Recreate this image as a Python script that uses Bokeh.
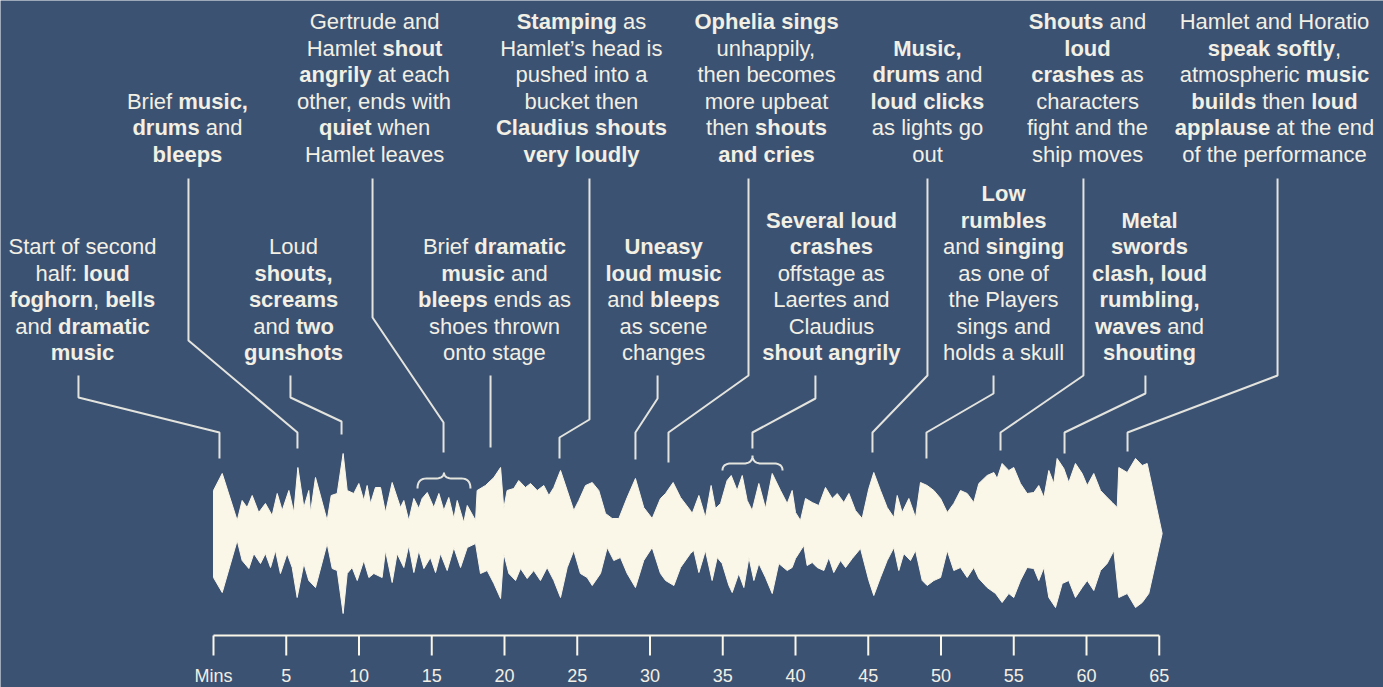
import numpy as np
from bokeh.plotting import figure
from bokeh.models import Range1d, ColumnDataSource
from bokeh.embed import file_html
from bokeh.resources import INLINE
from bokeh.core.properties import value

# ---------------- data ----------------
# loudness envelope above the centre line (minutes, loudness)
top_min = [0.00, 0.60, 1.63, 1.97, 2.31, 2.66, 3.11, 3.57, 4.03, 4.38,
           4.72, 5.18, 5.52, 5.80, 6.21, 6.55, 6.67, 7.01, 7.81, 8.09,
           8.50, 8.91, 9.19, 9.64, 9.99, 10.33, 10.56, 10.79, 11.13, 11.48,
           11.82, 12.28, 12.85, 13.08, 13.42, 13.77, 14.11, 14.34, 14.69, 15.14,
           15.49, 15.83, 16.17, 16.52, 16.75, 17.20, 17.44, 18.01, 18.12, 18.69,
           19.27, 19.73, 19.95, 20.18, 20.64, 20.98, 21.44, 21.79, 22.25, 22.70,
           23.05, 23.39, 23.85, 24.31, 24.76, 25.11, 25.57, 26.03, 26.48, 26.94,
           27.40, 27.86, 28.43, 29.00, 29.57, 30.15, 30.72, 31.07, 31.59, 32.10,
           32.78, 32.90, 33.36, 33.81, 34.20, 34.50, 34.85, 35.30, 35.58, 35.99,
           36.34, 36.68, 37.02, 37.48, 37.94, 38.40, 38.97, 39.43, 39.77, 40.00,
           40.34, 40.69, 41.15, 41.60, 42.06, 42.52, 42.87, 43.32, 43.67, 44.12,
           44.58, 45.04, 45.38, 45.84, 46.30, 46.76, 46.99, 47.33, 47.79, 48.25,
           48.59, 49.05, 49.51, 49.97, 50.43, 50.88, 51.34, 51.80, 52.25, 52.60,
           53.17, 53.63, 53.86, 54.20, 54.66, 55.00, 55.46, 55.92, 56.38, 56.72,
           57.07, 57.41, 57.75, 57.98, 58.44, 58.78, 59.24, 59.70, 60.05, 60.50,
           60.96, 61.42, 61.77, 62.11, 62.22, 62.80, 63.37, 63.83, 64.17, 65.20]
top_amp = [43, 60, 13, 33, 26, 38, 21, 30, 18, 40,
           23, 43, 21, 66, 26, 43, 21, 56, 13, 38,
           40, 80, 43, 40, 50, 33, 48, 30, 46, 46,
           21, 51, 26, 33, 13, 35, 25, 35, 41, 26,
           40, 23, 36, 15, 33, 11, 28, 13, 43, 48,
           56, 66, 25, 43, 45, 53, 46, 50, 43, 48,
           38, 46, 63, 43, 23, 33, 48, 51, 43, 20,
           15, 15, 36, 55, 26, 15, 35, 40, 51, 36,
           23, 20, 38, 16, 48, 25, 30, 53, 58, 43,
           58, 33, 23, 50, 25, 60, 43, 30, 43, 21,
           13, 35, 31, 28, 46, 35, 40, 31, 40, 23,
           15, 45, 61, 43, 26, 16, 38, 21, 35, 16,
           51, 48, 43, 35, 21, 30, 43, 40, 31, 50,
           58, 61, 55, 70, 63, 66, 50, 40, 41, 48,
           36, 63, 50, 75, 65, 51, 70, 60, 48, 60,
           43, 36, 31, 26, 66, 61, 75, 68, 70, 0]
# loudness envelope below the centre line (minutes, loudness)
bot_min = [0.00, 0.60, 1.63, 1.97, 2.43, 2.77, 3.23, 3.57, 3.92, 4.26,
           4.60, 5.06, 5.41, 5.75, 6.21, 6.55, 7.01, 7.81, 8.16, 8.50,
           8.91, 9.19, 9.53, 9.88, 10.33, 10.68, 11.02, 11.59, 11.82, 12.28,
           12.62, 13.08, 13.42, 13.77, 14.11, 14.46, 14.91, 15.26, 15.60, 16.06,
           16.52, 16.98, 17.44, 18.01, 18.35, 18.81, 19.27, 19.73, 19.95, 20.30,
           20.76, 21.10, 21.56, 22.01, 22.47, 22.93, 23.39, 23.85, 24.31, 24.76,
           25.22, 25.68, 26.03, 26.60, 27.06, 27.51, 27.97, 28.43, 29.00, 29.57,
           30.15, 30.72, 31.07, 31.64, 32.10, 32.78, 33.01, 33.36, 33.81, 34.27,
           34.62, 34.96, 35.42, 35.65, 36.10, 36.45, 36.80, 37.14, 37.48, 37.94,
           38.40, 38.85, 39.43, 39.77, 40.00, 40.57, 40.80, 41.15, 41.49, 41.95,
           42.29, 42.63, 43.09, 43.44, 43.90, 44.47, 45.04, 45.38, 45.84, 46.30,
           46.76, 47.10, 47.44, 47.90, 48.25, 48.71, 49.05, 49.51, 49.97, 50.43,
           50.88, 51.34, 51.80, 52.25, 52.60, 53.17, 53.75, 54.20, 54.66, 55.00,
           55.46, 55.92, 56.38, 56.72, 57.07, 57.41, 57.87, 58.33, 58.78, 59.24,
           59.70, 60.05, 60.50, 60.96, 61.42, 61.88, 62.22, 62.80, 63.37, 63.83,
           64.28, 65.20]
bot_amp = [44, 59, 7, 27, 35, 20, 30, 20, 34, 17,
           40, 20, 34, 64, 30, 47, 54, 10, 35, 37,
           80, 40, 34, 47, 27, 44, 40, 44, 17, 49,
           20, 34, 12, 39, 17, 35, 24, 39, 20, 37,
           14, 34, 14, 10, 40, 37, 50, 65, 20, 40,
           47, 35, 45, 37, 47, 34, 47, 64, 34, 17,
           40, 44, 52, 40, 14, 27, 24, 40, 54, 27,
           14, 40, 47, 52, 34, 20, 17, 39, 17, 47,
           24, 30, 52, 59, 40, 54, 24, 47, 30, 44,
           60, 30, 37, 34, 25, 12, 32, 29, 34, 37,
           24, 39, 27, 34, 25, 15, 47, 62, 44, 27,
           14, 37, 20, 27, 17, 47, 52, 47, 44, 17,
           37, 34, 44, 34, 45, 54, 60, 69, 60, 64,
           47, 34, 35, 47, 34, 64, 74, 50, 47, 64,
           54, 47, 57, 37, 30, 17, 64, 60, 74, 69,
           60, 0]

tick_minutes = [0, 5, 10, 15, 20, 25, 30, 35, 40, 45, 50, 55, 60, 65]
tick_labels = ["Mins", "5", "10", "15", "20", "25", "30", "35", "40", "45",
               "50", "55", "60", "65"]

# annotation texts (** marks bold runs)
ann_text = [
    ["Start of second", "half: **loud**", "**foghorn**, **bells**", "and **dramatic**", "**music**"],
    ["Brief **music,**", "**drums** and", "**bleeps**"],
    ["Loud", "**shouts,**", "**screams**", "and **two**", "**gunshots**"],
    ["Gertrude and", "Hamlet **shout**", "**angrily** at each", "other, ends with", "**quiet** when", "Hamlet leaves"],
    ["Brief **dramatic**", "**music** and", "**bleeps** ends as", "shoes thrown", "onto stage"],
    ["**Stamping** as", "Hamlet\u2019s head is", "pushed into a", "bucket then", "**Claudius shouts**", "**very loudly**"],
    ["**Uneasy**", "**loud music**", "and **bleeps**", "as scene", "changes"],
    ["**Ophelia sings**", "unhappily,", "then becomes", "more upbeat", "then **shouts**", "**and cries**"],
    ["**Several loud**", "**crashes**", "offstage as", "Laertes and", "Claudius", "**shout angrily**"],
    ["**Music,**", "**drums** and", "**loud clicks**", "as lights go", "out"],
    ["**Low**", "**rumbles**", "and **singing**", "as one of", "the Players", "sings and", "holds a skull"],
    ["**Shouts** and", "**loud**", "**crashes** as", "characters", "fight and the", "ship moves"],
    ["**Metal**", "**swords**", "**clash, loud**", "**rumbling,**", "**waves** and", "**shouting**"],
    ["Hamlet and Horatio", "**speak softly**,", "atmospheric **music**", "**builds** then **loud**", "**applause** at the end", "of the performance"],
]
# event times (minutes) that each note points at
event_min = [0.41, 5.77, 8.80, 15.81, 19.04, 23.78, 29.00, 31.27, 37.04, 45.29, 49.00, 54.09, 58.49, 62.82]
# bracketed event spans (minutes)
brace_start = [14.02, 34.98]
brace_end = [17.66, 39.11]

# ---------------- layout / style ----------------
BG = "#3c5273"
CREAM = "#fbf7e8"
TEXT_C = "#f2efe4"
LINE_C = "#e4e4de"
FONT = "Liberation Sans"
FSIZE = 22.0
PITCH = 26.5
W, H = 1383, 687
X0, X1 = -14.639, 80.412
Y0, Y1 = -154, 533
PX_PER_MIN = W / (X1 - X0)
AXIS_Y = -102        # level of the time axis line
TICK_LEN = 20
LABEL_Y = -142       # vertical centre of tick labels

ann_x = [-9.00, -1.79, 5.50, 11.07, 19.31, 25.29, 30.93, 38.01, 42.47, 49.07, 54.30, 60.07, 64.33, 72.92]
ann_row = ["b", "t", "b", "t", "b", "t", "b", "t", "b", "t", "b", "t", "b", "t"]
ROW_BASE = {"t": 379.5, "b": 181.0}
lead_x = [-9.28, -1.72, 5.29, 10.93, 19.04, 25.84, 30.52, 36.77, 41.37, 49.07, 53.61, 59.79, 64.05, 73.13]
lead_y = [[158, 136, 101, 75], [355, 193, 101, 85], [158, 136, 112, 99], [355, 216, 111, 81],
          [158, 120, 101, 86], [355, 114, 96, 75], [158, 135, 101, 74], [355, 158, 101, 71],
          [158, 135, 101, 85], [355, 158, 101, 81], [158, 140, 101, 75], [355, 158, 101, 83],
          [158, 140, 101, 80], [355, 158, 101, 82]]
brace_lv = [(45, 55, 61), (63, 70, 78)]

up = "ABCDEFGHIJKLMNOPQRSTUVWXYZ"
lo = "abcdefghijklmnopqrstuvwxyz"
REG = dict(zip(up, [667, 667, 722, 722, 667, 611, 778, 722, 278, 500, 667, 556, 833, 722, 778, 667, 778, 722, 667, 611, 722, 667, 944, 667, 667, 611]))
REG.update(zip(lo, [556, 556, 500, 556, 556, 278, 556, 556, 222, 222, 500, 222, 833, 556, 556, 556, 556, 333, 500, 278, 556, 500, 722, 500, 500, 500]))
REG.update({" ": 278, ",": 278, ".": 278, ":": 278, "\u2019": 222})
BOLD = dict(zip(up, [722, 722, 722, 722, 667, 611, 778, 722, 278, 556, 722, 611, 833, 722, 778, 667, 778, 722, 667, 611, 722, 667, 944, 667, 667, 611]))
BOLD.update(zip(lo, [556, 611, 556, 611, 556, 333, 611, 611, 278, 278, 556, 278, 889, 611, 611, 611, 611, 389, 556, 333, 611, 556, 778, 556, 556, 500]))
BOLD.update({" ": 278, ",": 278, ".": 278, ":": 333, "\u2019": 278})


def tw(s, bold):
    t = BOLD if bold else REG
    return sum(t.get(c, 556) for c in s) * FSIZE / 1000.0


seg = {"n": dict(x=[], y=[], text=[], dx=[]), "b": dict(x=[], y=[], text=[], dx=[])}
for x, row, lines in zip(ann_x, ann_row, ann_text):
    n = len(lines)
    for i, line in enumerate(lines):
        y = ROW_BASE[row] + (n - 1 - i) * PITCH
        parts = line.split("**")
        runs = [(p, k % 2 == 1) for k, p in enumerate(parts) if p]
        total = sum(tw(p, b) for p, b in runs)
        cur = -total / 2.0
        for p, b in runs:
            lead = len(p) - len(p.lstrip(" "))
            core = p.strip(" ")
            cur_core = cur + tw(p[:lead], b)
            if core:
                d = seg["b" if b else "n"]
                d["x"].append(x)
                d["y"].append(y)
                d["text"].append(core)
                d["dx"].append(cur_core)
            cur += tw(p, b)

p = figure(width=W, height=H, x_range=Range1d(X0, X1), y_range=Range1d(Y0, Y1),
           output_backend="svg", toolbar_location=None,
           x_axis_location=None, y_axis_location=None,
           min_border=0)
p.background_fill_color = BG
p.border_fill_color = BG
p.outline_line_color = None
p.xgrid.visible = False
p.ygrid.visible = False

# waveform
wx = list(top_min) + list(bot_min[::-1])
wy = list(top_amp) + [-a for a in bot_amp[::-1]]
p.patch(wx, wy, fill_color=CREAM, line_color=CREAM, line_width=1)

# leader lines
xs, ys = [], []
for tx, ex, yl in zip(lead_x, event_min, lead_y):
    xs.append([tx, tx, ex, ex])
    ys.append(list(yl))
p.multi_line(xs, ys, line_color=LINE_C, line_width=2)


# braces
def qb(p0, p1, p2, n=10):
    t = np.linspace(0, 1, n)
    return [((1 - tt) ** 2 * p0[0] + 2 * (1 - tt) * tt * p1[0] + tt ** 2 * p2[0],
             (1 - tt) ** 2 * p0[1] + 2 * (1 - tt) * tt * p1[1] + tt ** 2 * p2[1]) for tt in t]


for m0, m1, (ye, yb, yt) in zip(brace_start, brace_end, brace_lv):
    wpx = (m1 - m0) * PX_PER_MIN
    r = 9.0
    half = wpx / 2
    pts = qb((0, ye), (0, yb), (r, yb))
    pts += qb((half - r, yb), (half, yb), (half, yt))
    right = [(wpx - px, py) for px, py in pts[::-1]]
    pts = pts + right
    bx = [m0 + px / PX_PER_MIN for px, _ in pts]
    by = [py for _, py in pts]
    p.line(bx, by, line_color=LINE_C, line_width=2)

# annotation texts
for key, style in (("n", "normal"), ("b", "bold")):
    src = ColumnDataSource(seg[key])
    p.text(x="x", y="y", text="text", x_offset="dx", source=src,
           text_font=value(FONT), text_font_size="22px", text_font_style=style,
           text_color=TEXT_C, text_align="left", text_baseline="alphabetic")

# time axis (line, ticks and labels on the minute scale)
p.line([tick_minutes[0], tick_minutes[-1]], [AXIS_Y, AXIS_Y], line_color=CREAM, line_width=2)
p.segment(x0=tick_minutes, y0=[AXIS_Y] * len(tick_minutes),
          x1=tick_minutes, y1=[AXIS_Y - TICK_LEN] * len(tick_minutes),
          line_color=CREAM, line_width=2)
p.text(x=tick_minutes, y=[LABEL_Y] * len(tick_minutes), text=tick_labels,
       text_font=value(FONT), text_font_size="18px", text_color=TEXT_C,
       text_align="center", text_baseline="middle")

open("out.html", "w").write(file_html(p, INLINE))
